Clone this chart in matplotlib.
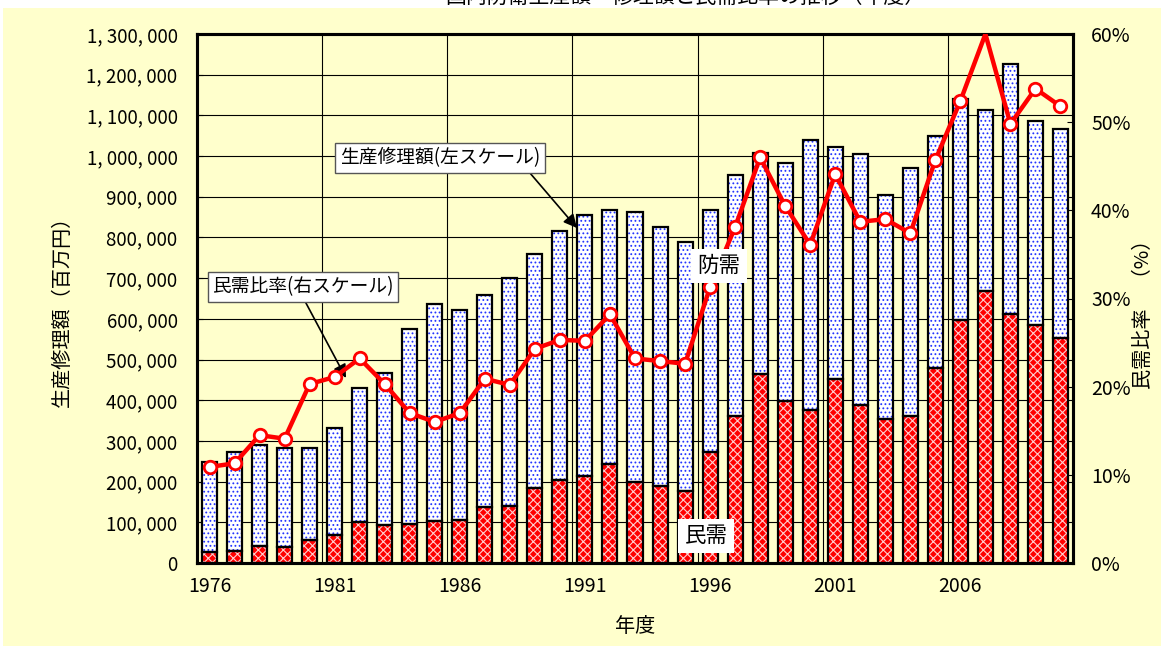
import matplotlib
matplotlib.use("Agg")
import matplotlib.pyplot as plt
from matplotlib.ticker import FuncFormatter, MultipleLocator, FixedLocator
from matplotlib.patches import Rectangle

plt.rcParams['font.family'] = ['Noto Sans CJK JP', 'DejaVu Sans']
plt.rcParams['hatch.linewidth'] = 0.8

years = list(range(1976, 2011))
total = [248000, 272000, 290000, 283000, 282000, 331000, 429000, 467000, 575000, 636000,
         622000, 659000, 701000, 759000, 816000, 855000, 868000, 863000, 826000, 790000,
         868000, 953000, 1008000, 983000, 1040000, 1022000, 1005000, 904000, 970000, 1049000,
         1140000, 1113000, 1226000, 1086000, 1067000]
civil = [27000, 30000, 42000, 40000, 57000, 70000, 100000, 94000, 97000, 102000,
         106000, 137000, 141000, 184000, 205000, 215000, 244000, 199000, 190000, 178000,
         272000, 361000, 464000, 398000, 375000, 451000, 389000, 353000, 362000, 480000,
         596000, 668000, 611000, 585000, 552000]
ratio = [10.9, 11.3, 14.5, 14.1, 20.3, 21.1, 23.2, 20.3, 17.0, 16.0,
         17.0, 20.9, 20.2, 24.3, 25.3, 25.2, 28.2, 23.2, 22.9, 22.6,
         31.3, 38.1, 46.0, 40.5, 36.1, 44.1, 38.7, 39.0, 37.4, 45.7,
         52.4, 60.0, 49.8, 53.8, 51.8]
defense = [t - c for t, c in zip(total, civil)]

W, H = 1161, 646
fig = plt.figure(figsize=(W / 100, H / 100), dpi=100, facecolor='white')
fig.patches.append(Rectangle((3 / W, 0), 1 - 3 / W, 1 - 8 / H, transform=fig.transFigure,
                             facecolor='#FFFFCC', edgecolor='none', zorder=-10))
fig.text(0.59, 1 - 3 / H, '国内防衛生産額・修理額と民需比率の推移（年度）', ha='center', va='baseline',
         fontsize=15)

ax = fig.add_axes([197 / W, 1 - 563 / H, (1073 - 197) / W, (563 - 34) / H])
ax.set_facecolor('#FFFFCC')
x = list(range(len(years)))
bw = 0.6
ax.bar(x, civil, width=bw, color='#FF0000', edgecolor='#FFD0D0', hatch='xxxx', linewidth=0, zorder=2)
ax.bar(x, defense, bottom=civil, width=bw, color='white', edgecolor='#2233FF', hatch='....',
       linewidth=0, zorder=2)
ax.bar(x, civil, width=bw, fill=False, edgecolor='black', linewidth=1.6, zorder=3)
ax.bar(x, defense, bottom=civil, width=bw, fill=False, edgecolor='black', linewidth=1.6, zorder=3)

ax.set_xlim(-0.5, len(years) - 0.5)
ax.set_ylim(0, 1300000)
ax.yaxis.set_major_locator(MultipleLocator(100000))
ax.yaxis.set_major_formatter(FuncFormatter(lambda v, p: f"{v:,.0f}".replace(",", ", ")))
label_idx = [i for i in x if (years[i] - 1976) % 5 == 0]
ax.set_xticks(label_idx)
ax.set_xticklabels([str(years[i]) for i in label_idx])
ax.xaxis.set_minor_locator(FixedLocator([i - 0.5 for i in label_idx[1:]]))
ax.tick_params(axis='x', which='both', length=0, pad=9, labelsize=14)
ax.tick_params(axis='y', length=4, direction='in', pad=14, labelsize=13.5)
ax.grid(axis='y', which='major', color='black', linewidth=0.8, zorder=0)
ax.grid(axis='x', which='minor', color='black', linewidth=0.8, zorder=0)
ax.set_axisbelow(True)
for s in ax.spines.values():
    s.set_linewidth(2.2)

ax2 = ax.twinx()
marks = [i for i in x if ratio[i] < 60]
ax2.plot(x, ratio, color='#FF0000', linewidth=3.2, marker='o', markersize=9,
         markerfacecolor='white', markeredgecolor='#FF0000', markeredgewidth=2,
         markevery=marks, zorder=5)
ax2.set_ylim(0, 60)
ax2.yaxis.set_major_locator(MultipleLocator(10))
ax2.yaxis.set_major_formatter(FuncFormatter(lambda v, p: f"{v:.0f}%"))
ax2.tick_params(axis='y', length=4, direction='in', pad=13, labelsize=14)
for s in ax2.spines.values():
    s.set_linewidth(2.2)

fig.text(62 / W, 1 - 306 / H, '生産修理額（百万円）', rotation=90, ha='center', va='center', fontsize=14.5)
fig.text(1143 / W, 1 - 309 / H, '民需比率　（%）', rotation=90, ha='center', va='center', fontsize=14.5)
fig.text(635 / W, 1 - 627 / H, '年度', ha='center', va='center', fontsize=14.5)

box = dict(boxstyle='square,pad=0.25', facecolor='white', edgecolor='#555555', linewidth=1)
ax.annotate('生産修理額(左スケール)', xy=(577 / W, 1 - 228 / H), xycoords='figure fraction',
            xytext=(440 / W, 1 - 158 / H), textcoords='figure fraction',
            ha='center', va='center', fontsize=13.5, bbox=box,
            arrowprops=dict(arrowstyle='-|>', color='black', lw=1.2, mutation_scale=20,
                            shrinkA=0, shrinkB=0, relpos=(0.93, 0)), zorder=8)
ax.annotate('民需比率(右スケール)', xy=(346 / W, 1 - 378 / H), xycoords='figure fraction',
            xytext=(303 / W, 1 - 287 / H), textcoords='figure fraction',
            ha='center', va='center', fontsize=13.5, bbox=box,
            arrowprops=dict(arrowstyle='-|>', color='black', lw=1.2, mutation_scale=20,
                            shrinkA=0, shrinkB=0, relpos=(0.5, 0)), zorder=8)
lbl = dict(boxstyle='square,pad=0.3', facecolor='white', edgecolor='none')
fig.text(719 / W, 1 - 266 / H, '防需', ha='center', va='center', fontsize=15.5, bbox=lbl, zorder=9)
fig.text(706 / W, 1 - 536 / H, '民需', ha='center', va='center', fontsize=15.5, bbox=lbl, zorder=9)

fig.savefig('out.png', dpi=100, facecolor=fig.get_facecolor())
